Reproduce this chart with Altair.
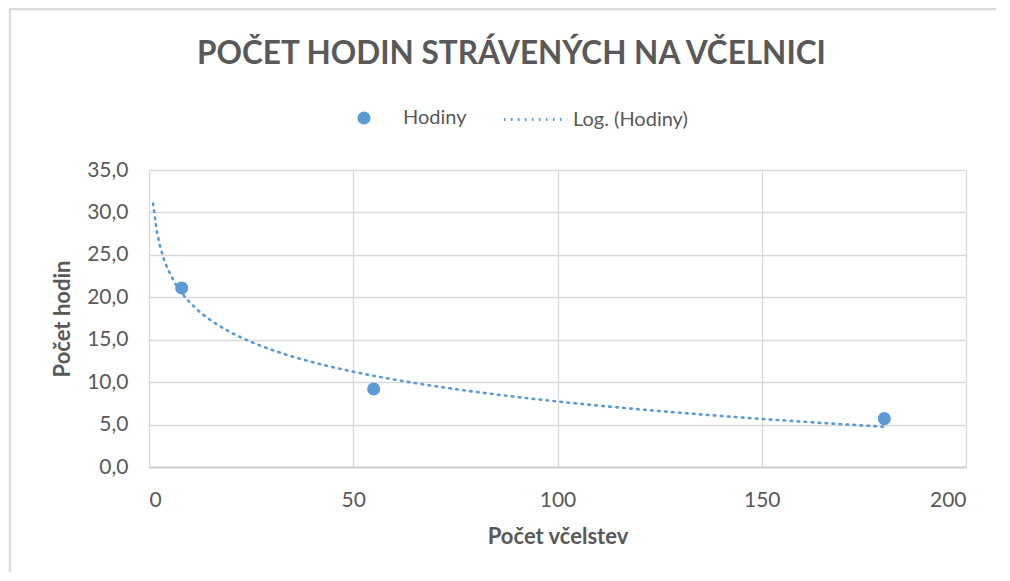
import altair as alt
import pandas as pd

# data
vcelstva = [8, 55, 180]
hodiny = [21.1, 9.2, 5.7]
x_ticks = [0, 50, 100, 150, 200]
y_ticks = [0, 5, 10, 15, 20, 25, 30, 35]

df = pd.DataFrame({"x": vcelstva, "y": hodiny})

BLUE = "#5B9BD5"
GRAY = "#595959"
FONT = "Lato"

xenc = alt.X("x:Q", scale=alt.Scale(domain=[0, 200], nice=False),
             axis=alt.Axis(values=x_ticks, title="Počet včelstev", grid=True,
                           ticks=False, labelPadding=22, titlePadding=16,
                           domainColor="#c8c8c8", domainWidth=1.5))
yenc = alt.Y("y:Q", scale=alt.Scale(domain=[0, 35], nice=False),
             axis=alt.Axis(values=y_ticks, title="Počet hodin", grid=True,
                           ticks=False, domain=False, labelPadding=21, titlePadding=12,
                           labelExpr="replace(format(datum.value, '.1f'), '.', ',')"))

points = alt.Chart(df).transform_calculate(s="'Hodiny'").mark_circle(size=170, opacity=1).encode(
    x=xenc, y=yenc,
    color=alt.Color("s:N", scale=alt.Scale(domain=["Hodiny"], range=[BLUE]),
                    legend=alt.Legend(title=None, orient="none", legendX=205, legendY=-62,
                                      labelOffset=29, padding=0, symbolSize=170,
                                      symbolType="circle")),
)

trend = alt.Chart(df).transform_regression(
    "x", "y", method="log", extent=[1, 180]
).transform_calculate(t="'Log. (Hodiny)'").mark_line(
    color=BLUE, strokeWidth=2.6, strokeCap="round"
).encode(
    x="x:Q", y="y:Q",
    strokeDash=alt.StrokeDash("t:N",
                              scale=alt.Scale(domain=["Log. (Hodiny)"], range=[[1.6, 5.4]]),
                              legend=alt.Legend(title=None, orient="none", legendX=353, legendY=-84,
                                                labelOffset=4, padding=0, symbolSize=4000,
                                                symbolType="stroke", symbolStrokeColor=BLUE,
                                                symbolStrokeWidth=2.8)),
)

# light chart-area frame (decoration, left and top edges)
frame_src = pd.DataFrame({"k": [0]})
frame_left = alt.Chart(frame_src).mark_rule(color="#dcdcdc", strokeWidth=2.5).encode(
    x=alt.value(-139), y=alt.value(-161), y2=alt.value(420))
frame_top = alt.Chart(frame_src).mark_rule(color="#dcdcdc", strokeWidth=2.5).encode(
    x=alt.value(-140), x2=alt.value(860), y=alt.value(-161))

chart = alt.layer(frame_left, frame_top, trend, points).properties(
    width=817, height=297,
    title=alt.Title("POČET HODIN STRÁVENÝCH NA VČELNICI", anchor="middle", frame="group",
                    offset=-63, dx=-46, fontSize=31.5, font=FONT, fontWeight="bold", color=GRAY),
    padding={"left": 141, "top": 162, "right": 30, "bottom": 105},
    autosize=alt.AutoSizeParams(type="none"),
).configure_view(stroke=None).configure_axis(
    gridColor="#d9d9d9", gridWidth=1.3, labelFont=FONT, labelFontSize=21, labelColor=GRAY,
    titleFont=FONT, titleFontSize=22, titleColor=GRAY, titleFontWeight="bold",
).configure_legend(
    labelFont=FONT, labelFontSize=20, labelColor=GRAY,
)

chart.save("out.html", embed_options={"renderer": "svg", "actions": False})
